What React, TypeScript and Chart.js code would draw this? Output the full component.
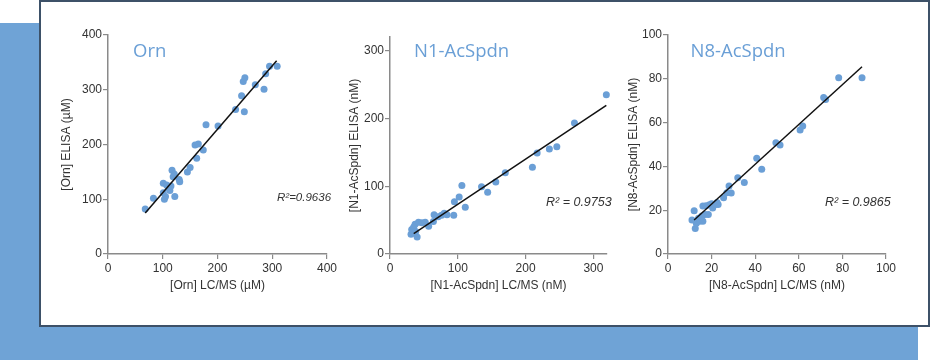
import React, { useEffect, useRef } from "react";
import { Chart, registerables } from "chart.js";

Chart.register(...registerables);
Chart.defaults.font.family = "'Liberation Sans', Arial, sans-serif";

// ---------- Orn ----------
const ornLcms = [68, 83, 101, 103, 105, 101, 107, 110, 113, 117, 121, 122, 131, 130, 145, 150, 162, 159, 165, 174, 179, 201, 233, 244, 249, 247, 250, 269, 285, 288, 295, 309, 115, 119];
const ornElisa = [82, 102, 129, 100, 105, 112, 126, 121, 116, 153, 146, 105, 132, 136, 150, 158, 175, 199, 201, 190, 236, 234, 264, 289, 260, 315, 322, 309, 301, 329, 343, 343, 124, 141];
const ornFitX = [68, 308];
const ornFitY = [75, 353];
const ornTicks = [0, 100, 200, 300, 400];

// ---------- N1-AcSpdn ----------
const n1Lcms = [31, 40, 32, 35, 37, 38, 42, 47, 52, 57, 64, 65, 71, 76, 80, 84, 94, 95, 102, 106, 111, 135, 144, 156, 170, 210, 217, 235, 246, 272, 319];
const n1Elisa = [29, 25, 36, 40, 44, 33, 47, 46, 47, 41, 48, 58, 55, 57, 60, 58, 57, 77, 84, 101, 69, 99, 91, 106, 120, 128, 149, 155, 158, 193, 235];
const n1FitX = [35, 319];
const n1FitY = [30, 219];
const n1Ticks = [0, 100, 200, 300];

// ---------- N8-AcSpdn ----------
const n8Lcms = [11, 12, 12.5, 13, 14, 14.5, 15.5, 16, 17, 16, 17.5, 18.5, 19, 20, 20.5, 21.5, 22.5, 23, 25.5, 27, 28, 29, 32, 35, 40.7, 43, 49.5, 51.4, 60.6, 61.8, 71.4, 72.3, 78.3, 89];
const n8Elisa = [15.5, 19.8, 11.7, 14, 16.3, 15, 17.4, 15, 18, 21.9, 22, 18, 22.5, 23, 21, 22.5, 23.5, 22.6, 25.7, 28, 31, 27.8, 34.8, 32.7, 43.7, 38.7, 50.8, 49.8, 56.6, 58.4, 71.5, 70.6, 80.5, 80.5];
const n8FitX = [12, 89];
const n8FitY = [15.5, 85.5];
const n8Ticks = [0, 20, 40, 60, 80, 100];

const DOT = "#6b9fd6";
const AXIS = "#8a8a8a";
const TEXT = "#333333";

const panelLabels = {
  id: "panelLabels",
  afterDraw(chart: any, _args: any, opts: any) {
    const ctx = chart.ctx;
    const { left, top } = chart.chartArea;
    ctx.save();
    ctx.textBaseline = "alphabetic";
    ctx.textAlign = "left";
    ctx.fillStyle = "#6a9fd6";
    ctx.font = "18.5px 'Open Sans', sans-serif";
    ctx.fillText(opts.title, left + opts.tdx, top + opts.tdy);
    ctx.fillStyle = TEXT;
    ctx.font = `italic ${opts.rSize}px 'Liberation Sans', Arial, sans-serif`;
    ctx.fillText(opts.r2, left + opts.rdx, top + opts.rdy);
    ctx.restore();
  },
};

type Panel = {
  left: number; top: number; w: number; h: number;
  xs: number[]; ys: number[]; fx: number[]; fy: number[];
  max: number; ticks: number[];
  xTitle: string; yTitle: string; yPad: number;
  title: string; tdx: number; tdy: number;
  r2: string; rdx: number; rdy: number; rSize: number;
};

function axis(max: number, ticks: number[], title: string, isX: boolean, yPad: number) {
  return {
    type: "linear",
    min: 0,
    max,
    afterBuildTicks: (s: any) => { s.ticks = ticks.map((v) => ({ value: v })); },
    afterFit: (s: any) => { if (isX) s.height = 45; else s.width = 50; },
    ticks: { color: TEXT, font: { size: 12 }, padding: isX ? 2 : 1, autoSkip: false, maxRotation: 0 },
    grid: { display: true, drawOnChartArea: false, drawTicks: true, tickLength: 5, color: AXIS, lineWidth: 1.2 },
    border: { display: true, color: AXIS, width: 1.5 },
    title: {
      display: true, text: title, color: TEXT, font: { size: 12 },
      padding: isX ? { top: 0, bottom: 5.8 } : { top: yPad, bottom: 0 },
    },
  };
}

function ScatterPanel({ p }: { p: Panel }) {
  const ref = useRef<HTMLCanvasElement>(null);
  useEffect(() => {
    const chart = new Chart(ref.current as HTMLCanvasElement, {
      type: "scatter",
      data: {
        datasets: [
          {
            data: p.fx.map((x, i) => ({ x, y: p.fy[i] })),
            showLine: true, borderColor: "#111", borderWidth: 1.5, pointRadius: 0, order: 0, clip: false,
          },
          {
            data: p.xs.map((x, i) => ({ x, y: p.ys[i] })),
            backgroundColor: DOT, borderWidth: 0, pointRadius: 3.5, order: 1, clip: false,
          },
        ],
      },
      options: {
        responsive: false,
        animation: false,
        devicePixelRatio: 1,
        layout: { padding: { top: 15, right: 25, left: 0, bottom: 0 } },
        plugins: {
          legend: { display: false },
          tooltip: { enabled: false },
          panelLabels: {
            title: p.title, tdx: p.tdx, tdy: p.tdy,
            r2: p.r2, rdx: p.rdx, rdy: p.rdy, rSize: p.rSize,
          },
        },
        scales: {
          x: axis(p.max, p.ticks, p.xTitle, true, 0),
          y: axis(p.max, p.ticks, p.yTitle, false, p.yPad),
        },
      } as any,
      plugins: [panelLabels],
    });
    return () => chart.destroy();
  }, []);
  return (
    <canvas
      ref={ref}
      width={p.w}
      height={p.h}
      style={{ position: "absolute", left: p.left, top: p.top, width: p.w, height: p.h }}
    />
  );
}

const panels: Panel[] = [
  {
    left: 58, top: 20, w: 294, h: 279,
    xs: ornLcms, ys: ornElisa, fx: ornFitX, fy: ornFitY, max: 400, ticks: ornTicks,
    xTitle: "[Orn] LC/MS (µM)", yTitle: "[Orn] ELISA (µM)", yPad: 1.8,
    title: "Orn", tdx: 25, tdy: 21.5, r2: "R²=0.9636", rdx: 169, rdy: 166, rSize: 11.5,
  },
  {
    left: 340, top: 22, w: 292, h: 277,
    xs: n1Lcms, ys: n1Elisa, fx: n1FitX, fy: n1FitY, max: 320, ticks: n1Ticks,
    xTitle: "[N1-AcSpdn] LC/MS (nM)", yTitle: "[N1-AcSpdn] ELISA (nM)", yPad: 7.8,
    title: "N1-AcSpdn", tdx: 24, tdy: 19.5, r2: "R² = 0.9753", rdx: 156, rdy: 169, rSize: 12.5,
  },
  {
    left: 618, top: 20, w: 293, h: 279,
    xs: n8Lcms, ys: n8Elisa, fx: n8FitX, fy: n8FitY, max: 100, ticks: n8Ticks,
    xTitle: "[N8-AcSpdn] LC/MS (nM)", yTitle: "[N8-AcSpdn] ELISA (nM)", yPad: 8.8,
    title: "N8-AcSpdn", tdx: 22.5, tdy: 21.5, r2: "R² = 0.9865", rdx: 157, rdy: 171, rSize: 12.5,
  },
];

export default function App() {
  return (
    <div style={{ position: "absolute", left: 0, top: 0, width: 930, height: 360, overflow: "hidden", background: "#fff" }}>
      <div style={{ position: "absolute", left: 0, top: 23, width: 918, height: 337, background: "#6fa3d6" }} />
      <div
        style={{
          position: "absolute", left: 39, top: 0, width: 891, height: 327,
          border: "2px solid #3d5168", boxSizing: "border-box", background: "#fff",
        }}
      />
      {panels.map((p, i) => (
        <ScatterPanel key={i} p={p} />
      ))}
    </div>
  );
}
